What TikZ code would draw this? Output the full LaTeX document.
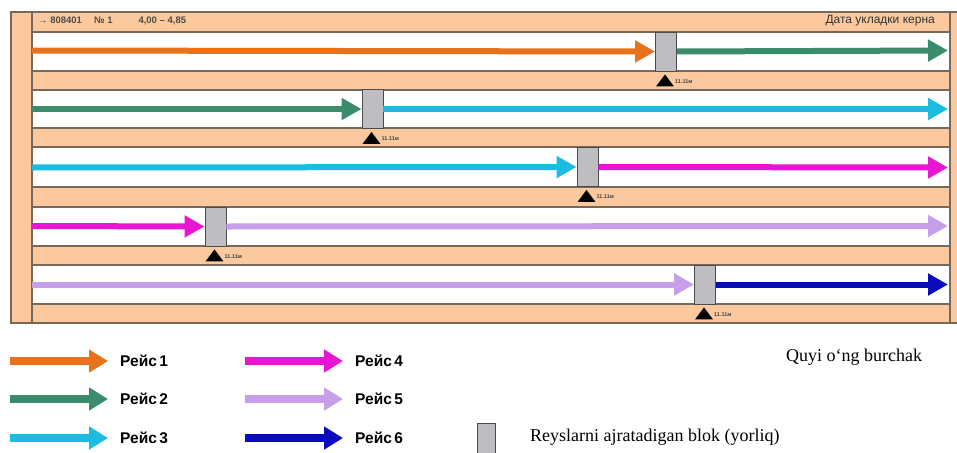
\documentclass[tikz,border=0pt]{standalone}
\usepackage{fontspec}
\setmainfont{Liberation Serif}
\setsansfont{Liberation Sans}
\usetikzlibrary{arrows.meta}

\definecolor{peach}{HTML}{FBC99D}
\definecolor{rule}{HTML}{76685A}
\definecolor{r1}{HTML}{E8711C}
\definecolor{r2}{HTML}{3B8C6C}
\definecolor{r3}{HTML}{1BBCE0}
\definecolor{r4}{HTML}{E816D2}
\definecolor{r5}{HTML}{C79EEA}
\definecolor{r6}{HTML}{0A0ABF}
\definecolor{blockgray}{HTML}{BEBEC2}

\tikzset{
  run/.style={line width=6pt, -{Triangle[width=21pt,length=20pt]}},
  keyrun/.style={line width=8pt, -{Triangle[width=22pt,length=19pt]}},
  sep/.style={draw=black!70, fill=blockgray, line width=0.9pt,
    minimum width=21pt, minimum height=39pt, inner sep=0pt},
  keysep/.style={draw=black!70, fill=blockgray, line width=0.9pt,
    minimum width=18pt, minimum height=40pt, inner sep=0pt},
  depth/.style={font=\sffamily\bfseries\fontsize{5.5}{5.5}\selectfont, text=black!75,
    anchor=west, inner sep=0pt},
  keytext/.style={font=\sffamily\bfseries\fontsize{15.5}{15.5}\selectfont, anchor=west, inner sep=0pt},
  note/.style={font=\fontsize{18}{18}\selectfont, anchor=west, inner sep=0pt},
  strip/.style={fill=white, draw=rule, line width=1.1pt},
}

% marker under a separator block, with the depth written beside it
\newcommand{\depthmark}[2]{%
  \fill ([xshift=-1pt,yshift=-3pt]#1.south) -- ([xshift=8pt,yshift=-15pt]#1.south)
    -- ([xshift=-10pt,yshift=-15pt]#1.south) -- cycle;
  \node[depth] (#2) at ([xshift=9pt,yshift=-10pt]#1.south) {11.11м};
}

\begin{document}
\begin{tikzpicture}[x=1pt,y=-1pt]
\useasboundingbox (0,0) rectangle (957,452);
\clip (0,0) rectangle (957,452);

% core box frame
\fill[peach] (11,12) rectangle (965,323);
\draw[rule, line width=1.1pt] (965,12) -- (11,12) -- (11,323) -- (965,323);
\draw[rule, line width=1.1pt] (32,12) -- (32,323);
\draw[rule, line width=1.1pt] (950,12) -- (950,323);

% header
\node[font=\sffamily\bfseries\fontsize{9.5}{9.5}\selectfont, text=black!70, anchor=west, inner sep=0pt]
  (hdrl) at (38,21) {→ 808401\hspace{12pt}№ 1\hspace{26pt}4,00 – 4,85};
\node[font=\sffamily\fontsize{12}{12}\selectfont, text=black!80, anchor=east, inner sep=0pt]
  (hdrr) at (935,21) {Дата укладки керна};

% core strips
\foreach \t/\b in {32/71, 90/128, 147/187, 207/246, 265/304}
  \draw[strip] (32,\t) rectangle (950,\b);

% strip 1
\coordinate (s1l) at (32,50.5);  \coordinate (s1r) at (948,50.5);
\node[sep] (b1) at (666,51.5) {};
\draw[run, r1] (s1l) -- (b1.west);
\draw[run, r2] (b1.east) -- (s1r);
\depthmark{b1}{d1}

% strip 2
\coordinate (s2l) at (32,109);  \coordinate (s2r) at (948,109);
\node[sep] (b2) at (372.5,109) {};
\draw[run, r2] (s2l) -- (b2.west);
\draw[run, r3] (b2.east) -- (s2r);
\depthmark{b2}{d2}

% strip 3
\coordinate (s3l) at (32,167.5);  \coordinate (s3r) at (948,167.5);
\node[sep] (b3) at (587.5,167) {};
\draw[run, r3] (s3l) -- (b3.west);
\draw[run, r4] (b3.east) -- (s3r);
\depthmark{b3}{d3}

% strip 4
\coordinate (s4l) at (32,226);  \coordinate (s4r) at (948,226);
\node[sep] (b4) at (215.5,226.5) {};
\draw[run, r4] (s4l) -- (b4.west);
\draw[run, r5] (b4.east) -- (s4r);
\depthmark{b4}{d4}

% strip 5
\coordinate (s5l) at (32,284.5);  \coordinate (s5r) at (948,284.5);
\node[sep] (b5) at (705,284.5) {};
\draw[run, r5] (s5l) -- (b5.west);
\draw[run, r6] (b5.east) -- (s5r);
\depthmark{b5}{d5}

% legend
\foreach \c/\n/\x/\y in {r1/1/10/361, r2/2/10/399, r3/3/10/438,
                         r4/4/245/361, r5/5/245/399, r6/6/245/438} {
  \coordinate (ka\n) at (\x,\y);
  \coordinate (kb\n) at (\x+98,\y);
  \draw[keyrun, \c] (ka\n) -- (kb\n);
  \node[keytext] (kt\n) at (\x+110,\y) {Рейс\,\n};
}
\node[keysep] (ksep) at (486,443) {};
\node[note] (ksept) at (530,437.5) {Reyslarni ajratadigan blok (yorliq)};
\node[note] (corner) at (786,357) {Quyi o‘ng burchak};

\end{tikzpicture}
\end{document}
